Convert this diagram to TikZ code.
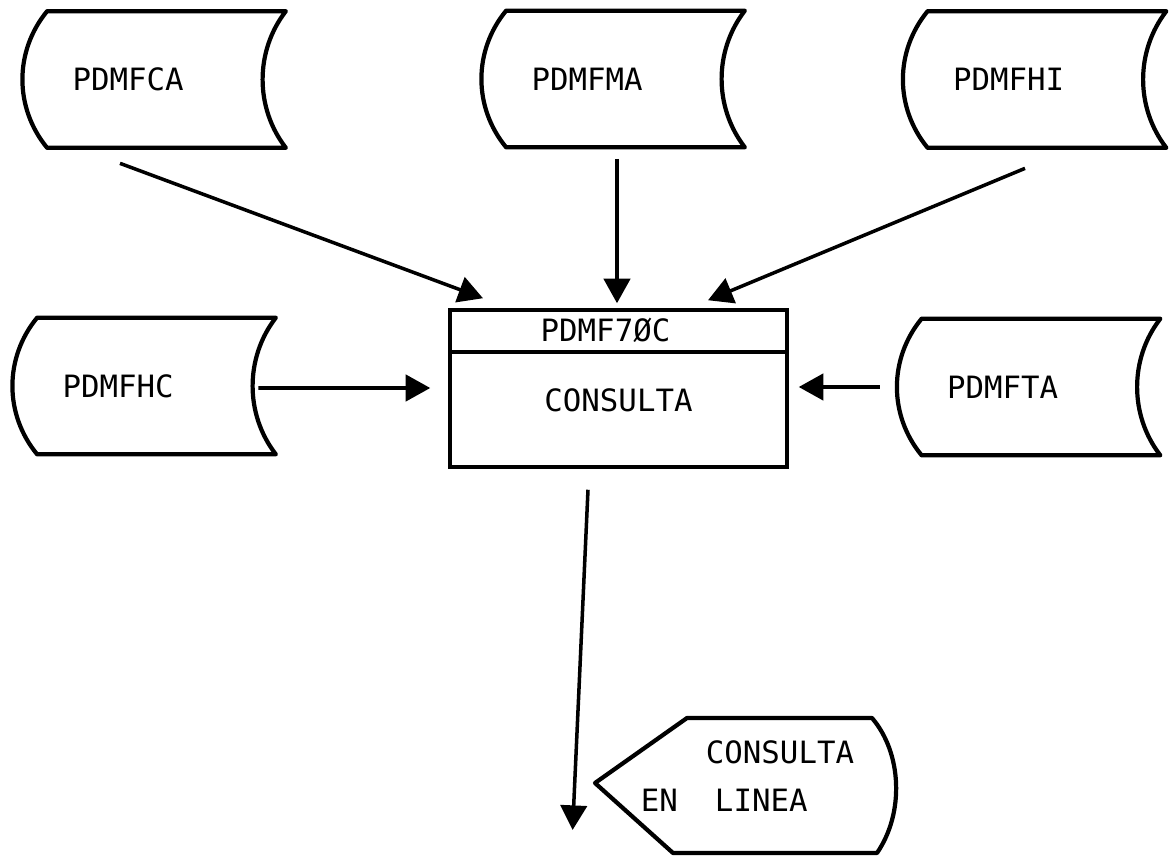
\documentclass[tikz,border=0pt]{standalone}
\usepackage{fontspec}
\newfontfamily\letterfont{DejaVu Sans Mono}
\usetikzlibrary{arrows.meta}
\usetikzlibrary{calc}
\tikzset{
    >={Triangle[length=14pt,width=15pt]},
    shapeline/.style={draw=black, line width=2.4pt, line join=round},
    boxline/.style={draw=black, line width=2pt},
    flow/.style={draw=black, line width=2pt, ->},
    lettering/.style={font=\letterfont\fontsize{17.5pt}{27pt}\selectfont},
    store/.style={lettering, minimum height=2.72cm, text width=3.76cm,
        inner xsep=0.5cm, align=left,
        append after command={\pgfextra{
            \draw[shapeline] (\tikzlastnode.north west) -- (\tikzlastnode.north east)
                .. controls +(-0.62,-0.8) and +(-0.62,0.8) .. (\tikzlastnode.south east)
                -- (\tikzlastnode.south west)
                .. controls +(-0.66,0.8) and +(-0.66,-0.8) .. (\tikzlastnode.north west) -- cycle;}}},
    procbox/.style={lettering, boxline, minimum width=6.74cm, minimum height=3.14cm,
        text height=0.9cm, text depth=0pt},
    titlebox/.style={lettering, minimum height=0.86cm, inner sep=0pt, text depth=0pt},
    display/.style={lettering, align=left, inner sep=0pt,
        append after command={\pgfextra{
            \draw[shapeline] ([shift={(-1.21,1.16)}]\tikzlastnode.center)
                -- ([shift={(2.49,1.16)}]\tikzlastnode.center)
                .. controls +(0.6,-0.7) and +(0.55,0.8) .. ([shift={(2.59,-1.54)}]\tikzlastnode.center)
                -- ([shift={(-1.49,-1.54)}]\tikzlastnode.center)
                -- ([shift={(-3.05,-0.14)}]\tikzlastnode.center) -- cycle;}}},
}

\begin{document}
\begin{tikzpicture}
\useasboundingbox[fill=white] (0cm,0cm) rectangle (23.4cm,17.16cm);
% files
\node[store] (ca) at (3.33cm,15.57cm) {PDMFCA};
\node[store] (ma) at (12.51cm,15.58cm) {PDMFMA};
\node[store] (hi) at (20.94cm,15.57cm) {PDMFHI};
\node[store] (hc) at (3.13cm,9.44cm) {PDMFHC};
\node[store] (ta) at (20.82cm,9.42cm) {PDMFTA};
% program
\node[procbox] (proc) at (12.37cm,9.39cm) {CONSULTA};
\node[titlebox, anchor=north] (title) at ([xshift=-0.26cm]proc.north) {PDMF7ØC};
\draw[boxline] (title.south -| proc.west) -- (title.south -| proc.east);
% output
\node[display] (disp) at (14.95cm,1.64cm) {\hspace*{1.3cm}CONSULTA\\EN\ \ LINEA};
% flows
\draw[flow] ([shift={(-0.93,-0.31)}]ca.south) -- ([shift={(-2.71,0.20)}]proc.north);
\draw[flow] ([shift={(-0.17,-0.23)}]ma.south) -- ([shift={(-0.03,0.10)}]proc.north);
\draw[flow] ([shift={(-0.44,-0.41)}]hi.south) -- ([shift={(1.79,0.16)}]proc.north);
\draw[flow] ([shift={(-0.35,-0.04)}]hc.east) -- ([shift={(-0.36,0.01)}]proc.west);
\draw[flow] ([shift={(-0.84,0)}]ta.west) -- ([shift={(0.20,0.03)}]proc.east);
\draw[flow] ([shift={(-0.61,-0.42)}]proc.south) -- ([shift={(-1.36,-1.08)}]disp.west);
\end{tikzpicture}
\end{document}
